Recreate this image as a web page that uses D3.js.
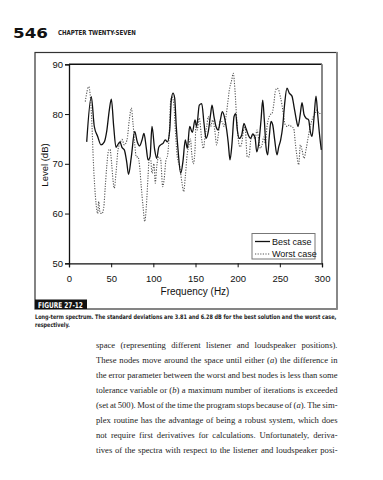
<!DOCTYPE html>
<html><head><meta charset="utf-8">
<script src="https://cdn.jsdelivr.net/npm/d3@7/dist/d3.min.js"></script>
<style>body{margin:0;background:#fff}svg{display:block}</style>
</head><body>
<script>
// ---- data ----
const bestFreq = [21.0,26.4,30.0,34.0,37.9,41.9,44.7,47.8,50.2,53.0,55.7,57.7,60.5,62.8,65.6,68.4,70.6,73.9,77.9,81.0,83.8,86.6,88.9,91.7,93.7,96.1,98.4,101.6,104.0,106.4,108.7,111.5,114.2,116.6,119.4,121.3,123.3,125.3,127.2,129.3,132.5,135.2,137.9,140.3,143.1,146.3,149.4,151.4,154.5,157.4,160.1,162.5,165.2,168.0,169.6,171.9,174.3,177.0,179.9,181.8,184.6,187.0,188.9,190.9,193.3,195.7,197.7,199.6,201.9,204.8,207.5,209.9,212.6,215.5,217.8,220.6,222.6,225.0,227.7,229.7,231.6,233.6,235.6,237.5,239.5,241.6,243.9,246.6,248.7,251.0,253.4,255.8,258.5,261.2,264.4,266.8,269.2,271.6,274.3,276.3,278.7,281.0,284.2,286.1,288.2,290.5,292.9,294.9,297.3,299.2];
const bestLevel = [74.4,83.5,77.5,75.5,73.8,74.4,76.5,80.8,83.0,77.5,73.3,73.8,74.4,73.3,72.8,70.4,67.9,71.4,76.5,74.4,73.6,74.8,76.1,73.1,70.8,71.4,77.5,72.8,71.1,73.3,73.8,74.1,74.8,74.4,76.7,82.8,84.2,83.2,77.5,72.8,68.1,70.6,74.8,73.1,77.5,76.3,78.8,77.5,81.8,82.1,78.1,75.1,76.5,80.1,81.8,79.5,77.5,76.8,79.2,80.5,79.2,76.8,74.1,70.8,74.1,79.5,80.1,76.8,75.1,75.8,78.1,77.1,75.8,75.1,76.0,75.3,72.4,74.1,78.8,82.8,78.8,73.4,71.8,75.5,78.5,77.8,74.8,71.8,73.4,74.8,77.5,82.2,85.2,84.2,83.6,81.5,79.2,77.5,80.1,82.3,79.9,79.2,78.8,76.5,75.5,79.2,83.6,79.9,75.5,72.8];
const worstFreq = [19.3,23.4,25.3,27.3,28.8,30.5,32.0,34.0,35.2,36.8,39.1,41.1,43.0,44.7,47.1,48.6,50.6,52.2,53.7,55.7,58.1,60.5,62.8,65.6,68.8,71.5,73.9,75.9,77.9,79.8,81.8,83.8,85.7,87.8,89.8,91.7,93.7,95.2,96.9,98.4,100.8,102.3,104.0,106.4,108.7,111.1,112.7,115.0,116.6,118.9,120.6,122.1,124.2,126.1,128.4,131.3,134.0,136.0,137.9,140.3,141.9,144.0,145.5,147.4,149.4,150.6,152.1,154.5,157.4,159.3,161.3,163.3,165.2,168.0,170.4,172.8,175.1,177.0,179.1,181.4,183.8,186.2,188.2,190.1,192.9,194.8,196.8,198.9,200.8,202.8,204.8,206.7,208.7,211.4,213.5,215.5,217.8,220.6,223.0,225.0,226.9,228.9,230.9,232.8,234.8,236.8,238.7,240.7,242.7,244.6,246.7,248.7,250.6,252.6,254.6,256.5,258.9,261.2,263.6,266.5,268.4,270.4,272.4,274.3,276.3,278.7,281.0,283.4,286.1,289.0,291.4,294.1,296.1,298.5];
const worstLevel = [82.5,85.5,83.5,77.5,70.8,65.4,62.1,60.0,62.4,60.2,60.0,61.1,65.4,69.4,72.8,72.9,70.0,66.7,65.1,68.1,72.8,74.1,74.9,73.8,74.8,78.8,81.2,78.1,74.1,71.4,71.4,69.4,65.4,61.4,58.4,61.4,67.4,71.1,70.8,68.1,70.0,66.1,69.4,71.4,70.8,65.4,66.7,70.8,71.4,76.1,82.8,83.4,82.1,76.8,71.4,69.4,66.1,64.4,67.4,72.1,73.4,75.0,72.1,70.0,72.8,78.1,76.8,79.2,74.8,73.1,75.4,77.5,79.5,77.5,78.8,76.8,73.8,75.8,78.5,78.5,77.5,79.5,82.2,84.8,86.8,88.2,84.8,78.8,74.8,73.4,74.1,76.5,77.5,71.4,71.4,74.8,75.8,75.0,76.8,74.8,73.1,73.8,75.4,74.1,77.5,79.2,79.9,80.1,81.8,84.5,85.2,84.8,83.5,81.8,79.5,77.8,77.5,77.8,77.5,77.1,74.1,71.4,69.8,73.8,72.8,71.1,72.8,75.1,77.5,79.2,79.9,80.8,80.1,80.1];
const xTicks = [0,50,100,150,200,250,300];
const yTicks = [50,60,70,80,90];
const seriesNames = ["Best case","Worst case"];
const bodyLines = [
  "space (representing different listener and loudspeaker positions).",
  "These nodes move around the space until either (<i>a</i>) the difference in",
  "the error parameter between the worst and best nodes is less than some",
  "tolerance variable or (<i>b</i>) a maximum number of iterations is exceeded",
  "(set at 500). Most of the time the program stops because of (<i>a</i>). The sim-",
  "plex routine has the advantage of being a robust system, which does",
  "not require first derivatives for calculations. Unfortunately, deriva-",
  "tives of the spectra with respect to the listener and loudspeaker posi-"
];

// ---- drawing ----
const W = 383, H = 480;
const svg = d3.select("body").append("svg").attr("width", W).attr("height", H);
const fontAx = "Arial, 'Liberation Sans', sans-serif";
const fontCond = "'DejaVu Sans', sans-serif";

// text squeezed horizontally to a given width via a transform
function fitText(x0, y0, str, fs, width, fill) {
  const gg = svg.append("g");
  const t = gg.append("text").attr("x", 0).attr("y", 0)
    .attr("font-family", fontCond).attr("font-weight", "bold")
    .attr("font-size", fs).attr("fill", fill).text(str);
  const w = t.node().getComputedTextLength();
  gg.attr("transform", `translate(${x0},${y0}) scale(${width / w},1)`);
  return t;
}

// page header
fitText(13, 37.5, "546", 14, 35, "#111");
fitText(58, 35, "CHAPTER TWENTY-SEVEN", 6.8, 78, "#222");

// figure frame
svg.append("rect").attr("x", 35).attr("y", 52.5).attr("width", 302).attr("height", 256.5)
  .attr("fill", "none").attr("stroke", "#333").attr("stroke-width", 1.2);
svg.append("line").attr("x1", 337).attr("x2", 337).attr("y1", 52).attr("y2", 309.5)
  .attr("stroke", "#888").attr("stroke-width", 2);

const x = d3.scaleLinear().domain([0, 300]).range([69, 322]);
const y = d3.scaleLinear().domain([50, 90]).range([263.3, 64.3]);

const g = svg.append("g");
g.append("line").attr("x1", x(0)).attr("x2", x(300)).attr("y1", y(90)).attr("y2", y(90))
  .attr("stroke", "#111").attr("stroke-width", 1.5);
g.append("line").attr("x1", x(300)).attr("x2", x(300)).attr("y1", y(90)).attr("y2", y(50))
  .attr("stroke", "#888").attr("stroke-width", 2);

const yAxis = g.append("g").attr("transform", `translate(${x(0)},0)`)
  .call(d3.axisLeft(y).tickValues(yTicks).tickSize(4).tickPadding(2).tickFormat(d3.format("d")));
const xAxis = g.append("g").attr("transform", `translate(0,${y(50)})`)
  .call(d3.axisBottom(x).tickValues(xTicks).tickSize(4).tickPadding(8).tickFormat(d3.format("d")));
[xAxis, yAxis].forEach(a => {
  a.select(".domain").attr("stroke", "#111").attr("stroke-width", 1.3);
  a.selectAll(".tick line").attr("stroke", "#111");
  a.selectAll(".tick text").attr("font-family", fontAx).attr("font-size", 9.5).attr("fill", "#111");
});

// lines
const lineGen = d3.line().x(d => x(d[0])).y(d => y(d[1])).curve(d3.curveMonotoneX);
const worstPts = worstFreq.map((f, i) => [f, worstLevel[i]]);
const bestPts = bestFreq.map((f, i) => [f, bestLevel[i]]);
g.append("path").attr("d", lineGen(worstPts)).attr("fill", "none")
  .attr("stroke", "#555").attr("stroke-width", 1.1).attr("stroke-dasharray", "1.2,1.4");
g.append("path").attr("d", lineGen(bestPts)).attr("fill", "none")
  .attr("stroke", "#111").attr("stroke-width", 1.3);

// axis titles
svg.append("text").attr("transform", "translate(48,165) rotate(-90)").attr("text-anchor", "middle")
  .attr("font-family", fontAx).attr("font-size", 9.5).attr("fill", "#111").text("Level (dB)");
svg.append("text").attr("x", 195).attr("y", 294.5).attr("text-anchor", "middle")
  .attr("font-family", fontAx).attr("font-size", 10).attr("fill", "#111").text("Frequency (Hz)");

// legend
const lg = svg.append("g").attr("transform", "translate(252,233.5)");
lg.append("rect").attr("width", 63).attr("height", 25.5).attr("fill", "#fff")
  .attr("stroke", "#777").attr("stroke-width", 1);
seriesNames.forEach((n, i) => {
  const yy = 8 + i * 12.5;
  lg.append("line").attr("x1", 3).attr("x2", 18).attr("y1", yy).attr("y2", yy)
    .attr("stroke", i === 0 ? "#111" : "#555").attr("stroke-width", i === 0 ? 1.3 : 1.1)
    .attr("stroke-dasharray", i === 0 ? null : "1.2,1.4");
  lg.append("text").attr("x", 20).attr("y", yy + 3.3).attr("font-family", fontAx)
    .attr("font-size", 9).attr("fill", "#111").text(n);
});

// figure label
svg.append("rect").attr("x", 35).attr("y", 299.5).attr("width", 52).attr("height", 9.5).attr("fill", "#111");
fitText(38, 307.5, "FIGURE 27-12", 8, 45, "#fff");

// caption
fitText(35, 319, "Long-term spectrum. The standard deviations are 3.81 and 6.28 dB for the best solution and the worst case,", 6.2, 302, "#222");
fitText(35, 326.5, "respectively.", 6.2, 35, "#222");

// body text: each word placed separately, justified
const bodyX0 = 96, bodyX1 = 337.5, bodyFs = 8.6;
const body = svg.append("g").attr("font-family", "'Liberation Serif', 'Times New Roman', serif")
  .attr("font-size", bodyFs).attr("fill", "#222");
bodyLines.forEach((ln, i) => {
  const yy = 348.3 + i * 14.9;
  const words = ln.split(" ").map(wd => wd.split(/(<i>.*?<\/i>)/).filter(s => s).map(s => {
    const m = s.match(/^<i>(.*)<\/i>$/);
    return { txt: m ? m[1] : s, it: !!m };
  }));
  const wordNodes = words.map(segs => segs.map(s => {
    const t = body.append("text").attr("y", yy).text(s.txt);
    if (s.it) t.attr("font-style", "italic");
    return { node: t, w: t.node().getComputedTextLength() };
  }));
  const widths = wordNodes.map(ws => d3.sum(ws, s => s.w));
  const total = d3.sum(widths);
  const gap = (bodyX1 - bodyX0 - total) / (words.length - 1);
  let cx = bodyX0;
  wordNodes.forEach((ws, k) => {
    let sx = cx;
    ws.forEach(s => { s.node.attr("x", sx); sx += s.w; });
    cx += widths[k] + gap;
  });
});
</script>
</body></html>
